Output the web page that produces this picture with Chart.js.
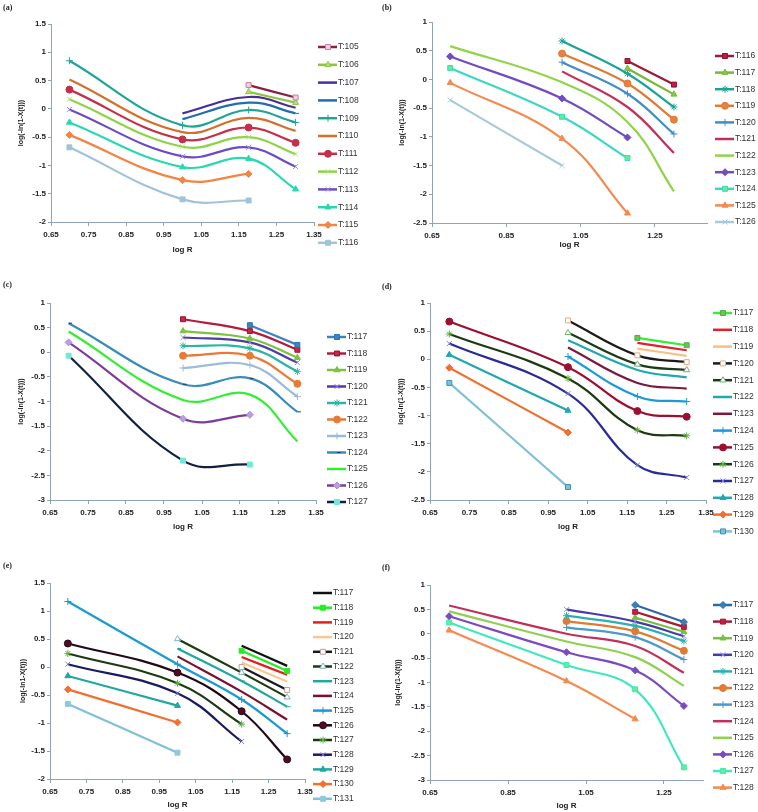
<!DOCTYPE html>
<html>
<head>
<meta charset="utf-8">
<script src="https://cdn.jsdelivr.net/npm/chart.js@4.4.0/dist/chart.umd.min.js"></script>
<style>
  body { margin: 0; background: #fff; width: 758px; height: 812px; position: relative; overflow: hidden; }
  canvas { position: absolute; }
  .tag { position: absolute; font: bold 8px "Liberation Serif", serif; color: #222; }
</style>
</head>
<body>
<canvas id="chartA" width="379" height="270" style="left:0;top:0"></canvas>
<canvas id="chartB" width="379" height="270" style="left:379px;top:0"></canvas>
<canvas id="chartC" width="379" height="270" style="left:0;top:270px"></canvas>
<canvas id="chartD" width="379" height="270" style="left:379px;top:270px"></canvas>
<canvas id="chartE" width="379" height="272" style="left:0;top:540px"></canvas>
<canvas id="chartF" width="379" height="272" style="left:379px;top:540px"></canvas>
<div class="tag" style="left:3px;top:3px">(a)</div>
<div class="tag" style="left:382px;top:3px">(b)</div>
<div class="tag" style="left:3px;top:280px">(c)</div>
<div class="tag" style="left:382px;top:282px">(d)</div>
<div class="tag" style="left:3px;top:561px">(e)</div>
<div class="tag" style="left:382px;top:563px">(f)</div>
<script>
// x positions shared by every panel (log R)
const logR = [0.699, 1.0, 1.176, 1.301];

const xTicksFine = [0.65, 0.75, 0.85, 0.95, 1.05, 1.15, 1.25, 1.35];
const xTicksWide = [0.65, 0.85, 1.05, 1.25];

// (a)
const aLabels = ['T:105','T:106','T:107','T:108','T:109','T:110','T:111','T:112','T:113','T:114','T:115','T:116'];
const aValues = [
  [null, null, 0.42, 0.20],
  [null, null, 0.30, 0.11],
  [null, -0.08, 0.21, 0.02],
  [null, -0.18, 0.11, -0.08],
  [0.85, -0.29, -0.02, -0.24],
  [0.52, -0.41, -0.16, -0.39],
  [0.34, -0.54, -0.33, -0.60],
  [0.17, -0.67, -0.50, -0.80],
  [-0.01, -0.84, -0.68, -1.02],
  [-0.24, -1.03, -0.88, -1.42],
  [-0.46, -1.26, -1.15, null],
  [-0.68, -1.60, -1.62, null]
];
const aTicksY = [-2, 1.5];

// (b)
const bLabels = ['T:116','T:117','T:118','T:119','T:120','T:121','T:122','T:123','T:124','T:125','T:126'];
const bValues = [
  [null, null, 0.32, -0.09],
  [null, null, 0.19, -0.26],
  [null, 0.67, 0.10, -0.48],
  [null, 0.45, -0.07, -0.70],
  [null, 0.30, -0.25, -0.95],
  [null, 0.14, -0.48, -1.28],
  [0.58, -0.05, -0.74, -1.95],
  [0.40, -0.33, -1.01, null],
  [0.20, -0.65, -1.37, null],
  [-0.06, -1.03, -2.33, null],
  [-0.36, -1.50, null, null]
];
const bTicksY = [-2.5, 1];

// (c)
const cLabels = ['T:117','T:118','T:119','T:120','T:121','T:122','T:123','T:124','T:125','T:126','T:127'];
const cValues = [
  [null, null, 0.55, 0.15],
  [null, 0.67, 0.43, 0.05],
  [null, 0.43, 0.28, -0.11],
  [null, 0.30, 0.20, -0.21],
  [null, 0.13, 0.08, -0.39],
  [null, -0.07, -0.07, -0.64],
  [null, -0.32, -0.26, -0.90],
  [0.59, -0.65, -0.53, -1.21],
  [0.42, -0.97, -0.86, -1.81],
  [0.20, -1.35, -1.27, null],
  [-0.07, -2.20, -2.28, null]
];
const cTicksY = [-3, 1];

// (d)
const dLabels = ['T:117','T:118','T:119','T:120','T:121','T:122','T:123','T:124','T:125','T:126','T:127','T:128','T:129','T:130'];
const dValues = [
  [null, null, 0.38, 0.25],
  [null, null, 0.29, 0.16],
  [null, null, 0.19, 0.06],
  [null, 0.69, 0.07, -0.05],
  [null, 0.47, -0.09, -0.19],
  [null, 0.34, -0.19, -0.32],
  [null, 0.21, -0.42, -0.52],
  [null, 0.05, -0.66, -0.75],
  [0.67, -0.14, -0.92, -1.02],
  [0.45, -0.34, -1.26, -1.36],
  [0.28, -0.61, -1.88, -2.10],
  [0.08, -0.91, null, null],
  [-0.15, -1.30, null, null],
  [-0.42, -2.27, null, null]
];
const dTicksY = [-2.5, 1];

// (e)
const eLabels = ['T:117','T:118','T:119','T:120','T:121','T:122','T:123','T:124','T:125','T:126','T:127','T:128','T:129','T:130','T:131'];
const eValues = [
  [null, null, 0.38, 0.02],
  [null, null, 0.29, -0.07],
  [null, null, 0.18, -0.14],
  [null, null, 0.08, -0.26],
  [null, null, 0.00, -0.41],
  [null, 0.50, -0.10, -0.54],
  [null, 0.33, -0.25, -0.71],
  [null, 0.19, -0.44, -0.94],
  [1.17, 0.05, -0.58, -1.19],
  [0.42, -0.10, -0.79, -1.65],
  [0.24, -0.29, -1.02, null],
  [0.05, -0.47, -1.33, null],
  [-0.16, -0.69, null, null],
  [-0.40, -0.99, null, null],
  [-0.66, -1.53, null, null]
];
const eTicksY = [-2, 1.5];

// (f)
const fLabels = ['T:117','T:118','T:119','T:120','T:121','T:122','T:123','T:124','T:125','T:126','T:127','T:128'];
const fValues = [
  [null, null, 0.59, 0.24],
  [null, null, 0.45, 0.14],
  [null, null, 0.33, 0.04],
  [null, 0.50, 0.25, -0.05],
  [null, 0.37, 0.16, -0.15],
  [null, 0.26, 0.05, -0.35],
  [null, 0.13, -0.07, -0.53],
  [0.58, 0.00, -0.25, -0.80],
  [0.46, -0.16, -0.48, -1.07],
  [0.36, -0.38, -0.75, -1.48],
  [0.23, -0.64, -1.14, -2.74],
  [0.07, -0.97, -1.75, null]
];
const fTicksY = [-3, 1];

// styles: [line colour, marker, marker fill, marker border]
const aStyles = [
  ['#8e1d44', 'rect', '#f0d0e0', '#c080a8'],
  ['#8cc63f', 'triangle', '#b8e070', '#8cc63f'],
  ['#4a2d9c', false],
  ['#1f6fb2', 'dash', '#1f6fb2', '#1f6fb2'],
  ['#1fa596', 'cross', '#1fa596', '#1fa596'],
  ['#d2702d', false],
  ['#c3304c', 'circle', '#c3304c', '#c3304c'],
  ['#8fd448', 'crossRot', '#c0f090', '#b0e080'],
  ['#6b4bc6', 'crossRot', '#b0a0e8', '#9b88e0'],
  ['#2ad8b0', 'triangle', '#2ad8b0', '#2ad8b0'],
  ['#f28444', 'rectRot', '#f28444', '#f28444'],
  ['#a0c4d6', 'rect', '#a0c4d6', '#a0c4d6']
];
const bStyles = [
  ['#9b1b3b', 'rect', '#c02040', '#8b1030'],
  ['#77b83a', 'triangle', '#88c848', '#77b83a'],
  ['#1aa39a', 'star', '#1aa39a', '#1aa39a'],
  ['#e07a35', 'circle', '#e88040', '#e07a35'],
  ['#3f8fc8', 'cross', '#3f8fc8', '#3f8fc8'],
  ['#c0305a', false],
  ['#8fd44a', false],
  ['#6f4cc4', 'rectRot', '#6f4cc4', '#6f4cc4'],
  ['#3ad8c0', 'rect', '#60f090', '#3ad8c0'],
  ['#f58a50', 'triangle', '#f58a50', '#f58a50'],
  ['#a8c8dc', 'crossRot', '#a8c8dc', '#a8c8dc']
];
const cStyles = [
  ['#3a84c0', 'rect', '#3a84c0', '#2a74b0'],
  ['#b51a3e', 'rect', '#c02a4a', '#a01030'],
  ['#7cc23e', 'triangle', '#7cc23e', '#7cc23e'],
  ['#4b3ca8', 'crossRot', '#a0a0e0', '#9090d8'],
  ['#2ab5a8', 'star', '#2ab5a8', '#2ab5a8'],
  ['#e87a35', 'circle', '#e87a35', '#e87a35'],
  ['#9dbbd8', 'cross', '#9dbbd8', '#9dbbd8'],
  ['#3a8cb8', 'dash', '#1a3a6a', '#1a3a6a'],
  ['#33ee33', false],
  ['#7d3c98', 'rectRot', '#b8a0e0', '#a890d8'],
  ['#102040', 'rect', '#70e8d8', '#70e8d8']
];
const dStyles = [
  ['#33ee33', 'rect', '#70c060', '#50b040'],
  ['#e0202a', false],
  ['#f8c080', false],
  ['#1a1a1a', 'rect', '#ffffff', '#e8a880'],
  ['#1a3a1a', 'triangle', '#ffffff', '#70b070'],
  ['#20a8b0', false],
  ['#7a1a3a', false],
  ['#1a9ad8', 'cross', '#1a9ad8', '#1a9ad8'],
  ['#9a1030', 'circle', '#9a1030', '#9a1030'],
  ['#1a3a10', 'star', '#60b040', '#60b040'],
  ['#2a2a9a', 'crossRot', '#8080d0', '#8080d0'],
  ['#20a8b0', 'triangle', '#20a8b0', '#20a8b0'],
  ['#f07030', 'rectRot', '#f07030', '#f07030'],
  ['#80c0d8', 'rect', '#80c0d8', '#4090b0']
];
const eStyles = [
  ['#111111', false],
  ['#22ee22', 'rect', '#22ee22', '#22ee22'],
  ['#e02020', false],
  ['#f8c890', false],
  ['#1a1a1a', 'rect', '#ffffff', '#c0a090'],
  ['#1a3a10', 'triangle', '#ffffff', '#80b0c0'],
  ['#20a8a0', 'dash', '#20a8a0', '#20a8a0'],
  ['#7a1030', false],
  ['#1a9ad0', 'cross', '#1a9ad0', '#1a9ad0'],
  ['#200818', 'circle', '#5a0820', '#200818'],
  ['#1a3a10', 'star', '#60b040', '#60b040'],
  ['#1a1a60', 'crossRot', '#8080d0', '#8080d0'],
  ['#20a8a0', 'triangle', '#20a8a0', '#20a8a0'],
  ['#f07030', 'rectRot', '#f07030', '#f07030'],
  ['#80c0d8', 'rect', '#90c8dc', '#90c8dc']
];
const fStyles = [
  ['#2a6aa8', 'rectRot', '#3a80c0', '#2a6aa8'],
  ['#a81a3a', 'rect', '#c02040', '#a81a3a'],
  ['#7ac040', 'triangle', '#7ac040', '#7ac040'],
  ['#4a3aa8', 'crossRot', '#a0a0e0', '#9090d8'],
  ['#2ab0b0', 'star', '#2ab0b0', '#2ab0b0'],
  ['#e07a35', 'circle', '#e07a35', '#e07a35'],
  ['#4a9ad0', 'cross', '#4a9ad0', '#4a9ad0'],
  ['#c0305a', false],
  ['#90d050', false],
  ['#7a4ac0', 'rectRot', '#7a4ac0', '#7a4ac0'],
  ['#40e8c0', 'rect', '#60f090', '#40e8c0'],
  ['#f58a50', 'triangle', '#f58a50', '#f58a50']
];

const axisColor = '#8fa2c0';
const tickFont = { family: '"Liberation Sans", Arial, sans-serif', size: 8, weight: 'bold' };

// draws legend entries (line + marker + text) at a fixed spot right of the plot
const sideLegend = {
  id: 'sideLegend',
  afterDraw(chart, args, opts) {
    const ctx = chart.ctx;
    ctx.save();
    ctx.font = '8.5px "Liberation Sans", Arial, sans-serif';
    ctx.textBaseline = 'middle';
    chart.data.datasets.forEach((ds, i) => {
      const y = opts.y + i * opts.gap;
      ctx.strokeStyle = ds.borderColor;
      ctx.lineWidth = 2.5;
      ctx.beginPath();
      ctx.moveTo(opts.x, y);
      ctx.lineTo(opts.x + 19, y);
      ctx.stroke();
      if (ds.pointStyle && ds.pointRadius > 0) {
        ctx.fillStyle = ds.pointBackgroundColor;
        ctx.strokeStyle = ds.pointBorderColor;
        ctx.lineWidth = ds.pointBorderWidth;
        Chart.helpers.drawPoint(ctx, { pointStyle: ds.pointStyle, radius: ds.pointRadius, rotation: 0, borderWidth: ds.pointBorderWidth }, opts.x + 10, y);
      }
      ctx.fillStyle = '#333';
      ctx.fillText(ds.label, opts.x + 20, y);
    });
    ctx.restore();
  }
};

function makePanel(id, labels, values, styles, yRange, xTicks, box, legend, yTitle) {
  const canvas = document.getElementById(id);
  const H = canvas.height, W = canvas.width;
  const datasets = labels.map((label, i) => {
    const st = styles[i];
    const pts = logR.map((x, j) => ({ x: x, y: values[i][j] })).filter(p => p.y !== null);
    return {
      label: label,
      data: pts,
      borderColor: st[0],
      borderWidth: 2.2,
      pointStyle: st[1],
      pointRadius: st[1] ? 3.5 : 0,
      pointBackgroundColor: st[2] || st[0],
      pointBorderColor: st[3] || st[0],
      pointBorderWidth: 1,
      tension: 0.4,
      fill: false
    };
  });
  new Chart(canvas.getContext('2d'), {
    type: 'line',
    data: { datasets: datasets },
    plugins: [sideLegend],
    options: {
      responsive: false,
      animation: false,
      layout: { padding: { left: 0, top: box.T, right: W - box.R, bottom: 0 } },
      plugins: {
        legend: { display: false },
        tooltip: { enabled: false },
        sideLegend: legend
      },
      scales: {
        x: {
          type: 'linear',
          min: 0.65,
          max: box.xMax || 1.35,
          afterBuildTicks: (scale) => { scale.ticks = xTicks.map(v => ({ value: v })); },
          afterFit: (scale) => { scale.height = H - box.B; },
          ticks: { font: tickFont, color: '#222', padding: 4, maxRotation: 0, callback: v => v.toFixed(2) },
          grid: { drawOnChartArea: false, drawTicks: true, tickLength: 4, color: axisColor },
          border: { color: axisColor, width: 1 },
          title: { display: true, text: 'log R', font: tickFont, color: '#222', padding: { top: 0, bottom: H - box.xt - 4.8 } }
        },
        y: {
          min: yRange[0],
          max: yRange[1],
          afterFit: (scale) => { scale.width = box.L; },
          ticks: { stepSize: 0.5, font: tickFont, color: '#222', padding: 2, callback: v => String(+v.toFixed(2)) },
          grid: { drawOnChartArea: false, drawTicks: true, tickLength: 3, color: axisColor },
          border: { color: axisColor, width: 1 },
          title: { display: true, text: yTitle, font: { family: '"Liberation Sans", Arial, sans-serif', size: 7, weight: 'bold' }, color: '#222', padding: { top: box.yt - 4.2, bottom: 0 } }
        }
      }
    }
  });
}

const yTitle = 'log(-ln(1-X(t)))';
makePanel('chartA', aLabels, aValues, aStyles, aTicksY, xTicksFine,
  { L: 51, T: 24, R: 314, B: 222, xt: 250, yt: 21 }, { x: 318, y: 47, gap: 17.8 }, yTitle);
makePanel('chartB', bLabels, bValues, bStyles, bTicksY, xTicksWide,
  { L: 53, T: 22, R: 328, B: 223, xt: 245, yt: 23, xMax: 1.39 }, { x: 336, y: 56, gap: 16.6 }, yTitle);
makePanel('chartC', cLabels, cValues, cStyles, cTicksY, xTicksFine,
  { L: 50, T: 33, R: 316, B: 230, xt: 257, yt: 21 }, { x: 327, y: 67, gap: 16.5 }, yTitle);
makePanel('chartD', dLabels, dValues, dStyles, dTicksY, xTicksFine,
  { L: 51, T: 33, R: 327, B: 230, xt: 257, yt: 22 }, { x: 334, y: 43, gap: 16.8 }, yTitle);
makePanel('chartE', eLabels, eValues, eStyles, eTicksY, xTicksFine,
  { L: 50, T: 43, R: 305, B: 239, xt: 265, yt: 23 }, { x: 313, y: 53, gap: 14.7 }, 'log(-ln1-X(t)))');
makePanel('chartF', fLabels, fValues, fStyles, fTicksY, xTicksWide,
  { L: 51, T: 45, R: 324, B: 240, xt: 266, yt: 19 }, { x: 334, y: 65, gap: 16.6 }, yTitle);
</script>
</body>
</html>
